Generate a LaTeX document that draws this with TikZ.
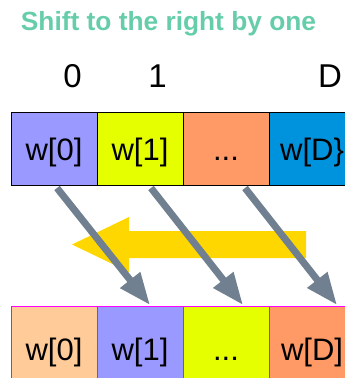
\documentclass[tikz,border=0pt]{standalone}
\usepackage{fontspec}
\setmainfont{Liberation Sans}
\usetikzlibrary{arrows.meta}
\definecolor{lav}{HTML}{9999FF}
\definecolor{limey}{HTML}{E6FF00}
\definecolor{orng}{HTML}{FF9966}
\definecolor{blu}{HTML}{0093DD}
\definecolor{peach}{HTML}{FFCC99}
\definecolor{ttl}{HTML}{66CDAA}
\definecolor{goldy}{HTML}{FFD700}
\definecolor{slate}{HTML}{708090}
\definecolor{magb}{HTML}{FF00FF}
\begin{document}
\begin{tikzpicture}[x=1pt,y=-1pt,
  cell/.style={draw, line width=1pt, minimum width=86pt, minimum height=73pt,
    inner sep=0pt, outer sep=0pt, font=\fontsize{31}{31}\selectfont, anchor=north west},
  toprow/.style={cell, draw=black, text height=30pt, text depth=7pt},
  botrow/.style={cell, draw=magb, text height=42pt, text depth=7pt},
  idx/.style={font=\fontsize{33}{33}\selectfont, anchor=base, inner sep=0pt},
  shiftarrow/.style={draw=slate, line width=7pt, -{Triangle[length=32pt,width=24pt]}},
  bigarrow/.style={fill=goldy}]
\useasboundingbox (0,0) rectangle (345,378);
\node[anchor=base, inner sep=0pt, text=ttl, font=\bfseries\fontsize{26.3}{26.3}\selectfont] (title) at (168.5,30) {Shift to the right by one};
\node[idx] (i0) at (72.5,87) {0};
\node[idx] (i1) at (157.5,87) {1};
\node[idx] (iD) at (330,87) {D};
% top row
\node[toprow, fill=lav] (t0) at (11,112) {w[0]};
\node[toprow, fill=limey] (t1) at (97,112) {w[1]};
\node[toprow, fill=orng] (t2) at (183,112) {...};
\node[toprow, fill=blu] (t3) at (269,112) {w[D\}};
% bottom row
\node[botrow, fill=peach] (b0) at (11,306) {w[0]};
\node[botrow, fill=lav] (b1) at (97,306) {w[1]};
\node[botrow, fill=limey] (b2) at (183,306) {...};
\node[botrow, fill=orng] (b3) at (269,306) {w[D]};
% big yellow arrow
\fill[bigarrow] (306,231) -- (129,231) -- (129,217) -- (72,244.5) -- (129,272) -- (129,258) -- (306,258) -- cycle;
% shift arrows
\coordinate (s0) at (57,188);
\coordinate (e0) at (150,305);
\coordinate (s1) at (151,188);
\coordinate (e1) at (243,305);
\coordinate (s2) at (245,188);
\coordinate (e2) at (337,305);
\draw[shiftarrow] (s0) -- (e0);
\draw[shiftarrow] (s1) -- (e1);
\draw[shiftarrow] (s2) -- (e2);
\end{tikzpicture}
\end{document}
